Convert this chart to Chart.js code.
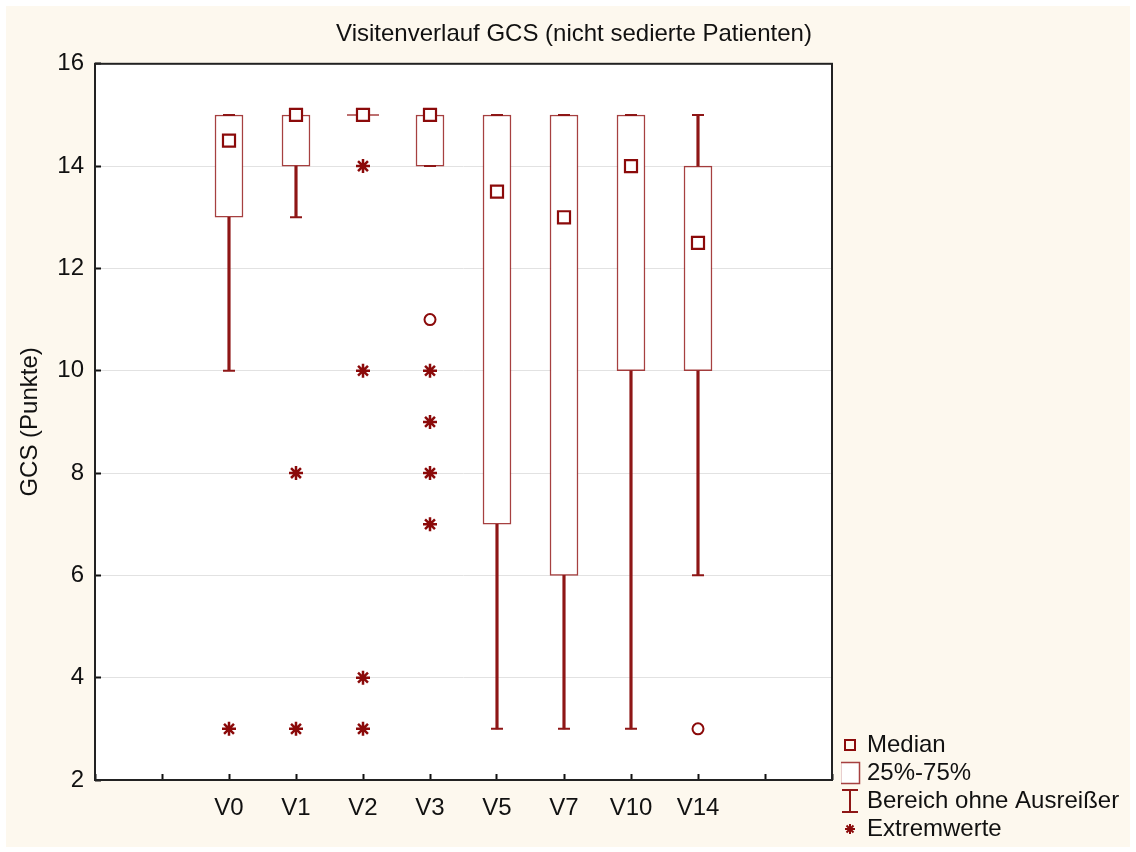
<!DOCTYPE html>
<html><head><meta charset="utf-8">
<script src="https://cdn.jsdelivr.net/npm/chart.js@4.4.1/dist/chart.umd.min.js"></script>
<style>html,body{margin:0;padding:0;background:#fff;}canvas{display:block;}</style>
</head><body>
<canvas id="c" width="1136" height="852"></canvas>
<script>
// ---- data ----
const categories = ['V0','V1','V2','V3','V5','V7','V10','V14'];
const positions  = [2,3,4,5,6,7,8,9];
const q1         = [13,14,15,14,7,6,10,10];
const q3         = [15,15,15,15,15,15,15,14];
const medians    = [14.5,15,15,15,13.5,13,14,12.5];
const whiskerLow = [10,13,15,14,3,3,3,6];
const whiskerHigh= [15,15,15,15,15,15,15,15];
const outliers   = [[],[],[],[11],[],[],[],[3]];
const extremes   = [[3],[8,3],[14,10,4,3],[10,9,8,7],[],[],[],[]];
const yTickMin = 2, yTickMax = 16, yTickStep = 2;
const legendLabels = ['Median','25%-75%','Bereich ohne Ausreißer','Extremwerte'];
const titleText = 'Visitenverlauf GCS (nicht sedierte Patienten)';
const yTitleText = 'GCS (Punkte)';

// ---- styles ----
const FONT = "'Liberation Sans', Arial, sans-serif";
const DARK = '#8b0a0a';
const WHISK = '#8e1616';
const BOXC = 'rgba(150,30,30,0.85)';
const TXT = '#111';

const boxData = categories.map((c,i)=>({x:positions[i], y:[q1[i], q3[i]]}));
const lowStem = categories.map((c,i)=>({x:positions[i], y:[whiskerLow[i], q1[i]]}));
const highStem = categories.map((c,i)=>({x:positions[i], y:[q3[i], whiskerHigh[i]]}));
const caps = [];
categories.forEach((c,i)=>{ caps.push({x:positions[i], y:whiskerLow[i]}); caps.push({x:positions[i], y:whiskerHigh[i]}); });
const flatBoxes = [];
categories.forEach((c,i)=>{ if(q1[i]===q3[i]) flatBoxes.push({x:positions[i], y:q1[i]}); });
const medianData = categories.map((c,i)=>({x:positions[i], y:medians[i]}));
const extremeData = [];
extremes.forEach((arr,i)=>arr.forEach(v=>extremeData.push({x:positions[i], y:v})));
const outlierData = [];
outliers.forEach((arr,i)=>arr.forEach(v=>outlierData.push({x:positions[i], y:v})));

function mkIcon(w,h,draw){ const c=document.createElement('canvas'); c.width=w; c.height=h; draw(c.getContext('2d'),w,h); return c; }
const iconMedian = mkIcon(14,14,g=>{g.strokeStyle=DARK; g.lineWidth=2; g.strokeRect(2,2,10,10);});
const iconBox = mkIcon(22,24,g=>{g.fillStyle='#fff'; g.fillRect(1,1,20,22); g.strokeStyle=BOXC; g.lineWidth=1.5; g.strokeRect(1.5,1.5,19,21);});
const iconWhisker = mkIcon(18,26,g=>{g.strokeStyle=WHISK; g.lineWidth=2; g.beginPath(); g.moveTo(9,1); g.lineTo(9,25); g.moveTo(1,2); g.lineTo(17,2); g.moveTo(1,24); g.lineTo(17,24); g.stroke();});
const iconStar = mkIcon(14,14,g=>{g.strokeStyle=DARK; g.lineWidth=2; g.beginPath();
  g.moveTo(7,2); g.lineTo(7,12); g.moveTo(2,7); g.lineTo(12,7); g.moveTo(3.5,3.5); g.lineTo(10.5,10.5); g.moveTo(10.5,3.5); g.lineTo(3.5,10.5); g.stroke();});
const legendIcons = [iconMedian, iconBox, iconWhisker, iconStar];

const bgPlugin = {
  id:'bg',
  beforeDraw(chart){
    const {ctx, chartArea:a} = chart;
    ctx.save();
    ctx.fillStyle = '#fdf8ee';
    ctx.fillRect(6,6,1124,841);
    ctx.fillStyle = '#ffffff';
    ctx.fillRect(a.left, a.top, a.right-a.left, a.bottom-a.top);
    ctx.restore();
  },
  beforeDatasetsDraw(chart){
    const {ctx, chartArea:a} = chart;
    ctx.save();
    ctx.strokeStyle = '#222';
    ctx.lineWidth = 2;
    ctx.strokeRect(a.left, a.top, a.right-a.left, a.bottom-a.top);
    ctx.restore();
  }
};
const legendPos = {
  id:'legendPos',
  afterLayout(chart){
    const lg = chart.legend; if(!lg) return;
    lg.left = 841; lg.right = lg.left + lg.width;
    lg.top = 729; lg.bottom = 852; lg.height = lg.bottom - lg.top;
  }
};

new Chart(document.getElementById('c'), {
  type: 'scatter',
  data: { datasets: [
    { type:'bar', label:'box', data: boxData, backgroundColor:'#fff', borderColor:BOXC, borderWidth:1.5, borderSkipped:false, barThickness:28, grouped:false, order:6 },
    { type:'bar', label:'lowStem', data: lowStem, backgroundColor:WHISK, borderWidth:0, barThickness:2.5, grouped:false, order:5 },
    { type:'bar', label:'highStem', data: highStem, backgroundColor:WHISK, borderWidth:0, barThickness:2.5, grouped:false, order:5 },
    { type:'scatter', label:'caps', data: caps, pointStyle:'line', radius:6, borderColor:WHISK, borderWidth:2, order:4 },
    { type:'scatter', label:'flat', data: flatBoxes, pointStyle:'line', radius:16, borderColor:BOXC, borderWidth:1.5, order:4 },
    { type:'scatter', label:'extreme', data: extremeData, pointStyle:'star', radius:7, borderColor:DARK, borderWidth:2.5, order:2 },
    { type:'scatter', label:'outlier', data: outlierData, pointStyle:'circle', radius:5.5, backgroundColor:'#fff', borderColor:DARK, borderWidth:2, order:2 },
    { type:'scatter', label:'median', data: medianData, pointStyle:'rect', radius:8.5, backgroundColor:'#fff', borderColor:DARK, borderWidth:2.2, order:1 }
  ]},
  options: {
    responsive:false, animation:false, devicePixelRatio:1,
    layout:{ padding:{ top:8, left:12, right:0, bottom:0 } },
    plugins:{
      tooltip:{enabled:false},
      title:{ display:true, text:titleText, color:TXT, font:{family:FONT, size:24, weight:'normal'}, padding:{top:12, bottom:15} },
      legend:{
        display:true, position:'chartArea', align:'start',
        labels:{
          usePointStyle:true, pointStyleWidth:10, padding:4, color:TXT,
          font:{family:FONT, size:24},
          generateLabels:()=>legendLabels.map((t,i)=>({text:t, pointStyle:legendIcons[i], fillStyle:'#fff', strokeStyle:DARK, lineWidth:0, hidden:false, fontColor:TXT, datasetIndex:0}))
        },
        onClick:()=>{}
      }
    },
    scales:{
      x:{
        type:'linear', position:'bottom', min:0, max:11, offset:false,
        ticks:{ stepSize:1, autoSkip:false, maxRotation:0, minRotation:0, color:TXT, font:{family:FONT, size:24}, padding:20,
          callback:(v)=>{ const i = positions.indexOf(v); return i>=0 ? categories[i] : ''; } },
        grid:{ drawOnChartArea:false, drawTicks:true, tickLength:-6, tickColor:'#111', tickWidth:2, offset:false },
        border:{ display:false },
        afterFit:(s)=>{ s.height = 72; }
      },
      y:{
        type:'linear', position:'left', min:yTickMin, max:yTickMax,
        ticks:{ stepSize:yTickStep, color:TXT, font:{family:FONT, size:24}, padding:17 },
        grid:{ color:'#e2e2e2', lineWidth:1, drawTicks:true, tickLength:-6, tickColor:'#111', tickWidth:2 },
        border:{ display:false },
        title:{ display:true, text:yTitleText, color:TXT, font:{family:FONT, size:24}, padding:{top:4, bottom:0} },
        afterFit:(s)=>{ s.width = 83; }
      },
      yR:{
        type:'linear', position:'right', display:true,
        ticks:{display:false}, grid:{display:false}, border:{display:false},
        afterFit:(s)=>{ s.width = 304; }
      }
    }
  },
  plugins:[bgPlugin, legendPos]
});
</script>
</body></html>
